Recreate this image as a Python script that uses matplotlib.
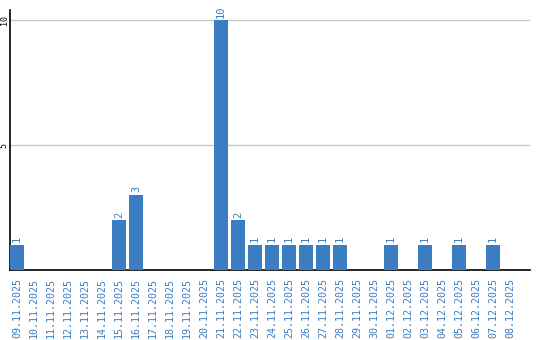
import numpy as np
import matplotlib
matplotlib.use("Agg")
import matplotlib.pyplot as plt

dates = ["09.11.2025", "10.11.2025", "11.11.2025", "12.11.2025", "13.11.2025",
         "14.11.2025", "15.11.2025", "16.11.2025", "17.11.2025", "18.11.2025",
         "19.11.2025", "20.11.2025", "21.11.2025", "22.11.2025", "23.11.2025",
         "24.11.2025", "25.11.2025", "26.11.2025", "27.11.2025", "28.11.2025",
         "29.11.2025", "30.11.2025", "01.12.2025", "02.12.2025", "03.12.2025",
         "04.12.2025", "05.12.2025", "06.12.2025", "07.12.2025", "08.12.2025"]
counts = [1, 0, 0, 0, 0, 0, 2, 3, 0, 0, 0, 0, 10, 2, 1,
          1, 1, 1, 1, 1, 0, 0, 1, 0, 1, 0, 1, 0, 1, 0]
yticks = [5, 10]

blue = "#3b7dc2"

def main():
    fig = plt.figure(figsize=(5.4, 3.4), dpi=100)
    ax = fig.add_axes([10 / 540, 70 / 340, 520 / 540, 260 / 340])

    x = np.arange(len(dates))
    bw = 14 / 17
    ax.bar(x, counts, width=bw, align="edge", color=blue, zorder=3)

    for xi, c in zip(x, counts):
        if c > 0:
            ax.text(xi + bw / 2, c + 0.1, str(c), rotation=90, ha="center", va="bottom",
                    color=blue, fontsize=7.5, family="DejaVu Sans Mono")

    ax.set_xlim(0, 520 / 17)
    ax.set_ylim(0, 10.4)
    ax.set_xticks(x + bw / 2)
    ax.set_xticklabels(dates, rotation=90, color=blue, fontsize=7.2,
                       family="DejaVu Sans Mono")
    ax.set_yticks(yticks)
    ax.set_yticklabels([str(v) for v in yticks], rotation=90, fontsize=6,
                       family="DejaVu Sans Mono", va="center")
    ax.tick_params(axis="both", length=0)
    ax.tick_params(axis="x", pad=6)
    ax.tick_params(axis="y", pad=1)
    ax.grid(axis="y", color="#c8c8c8", linewidth=1, zorder=0)

    for s in ["top", "right"]:
        ax.spines[s].set_visible(False)
    ax.spines["left"].set_linewidth(1.2)
    ax.spines["bottom"].set_linewidth(1.2)

    fig.savefig("out.png", dpi=100)


if __name__ == "__main__":
    main()
